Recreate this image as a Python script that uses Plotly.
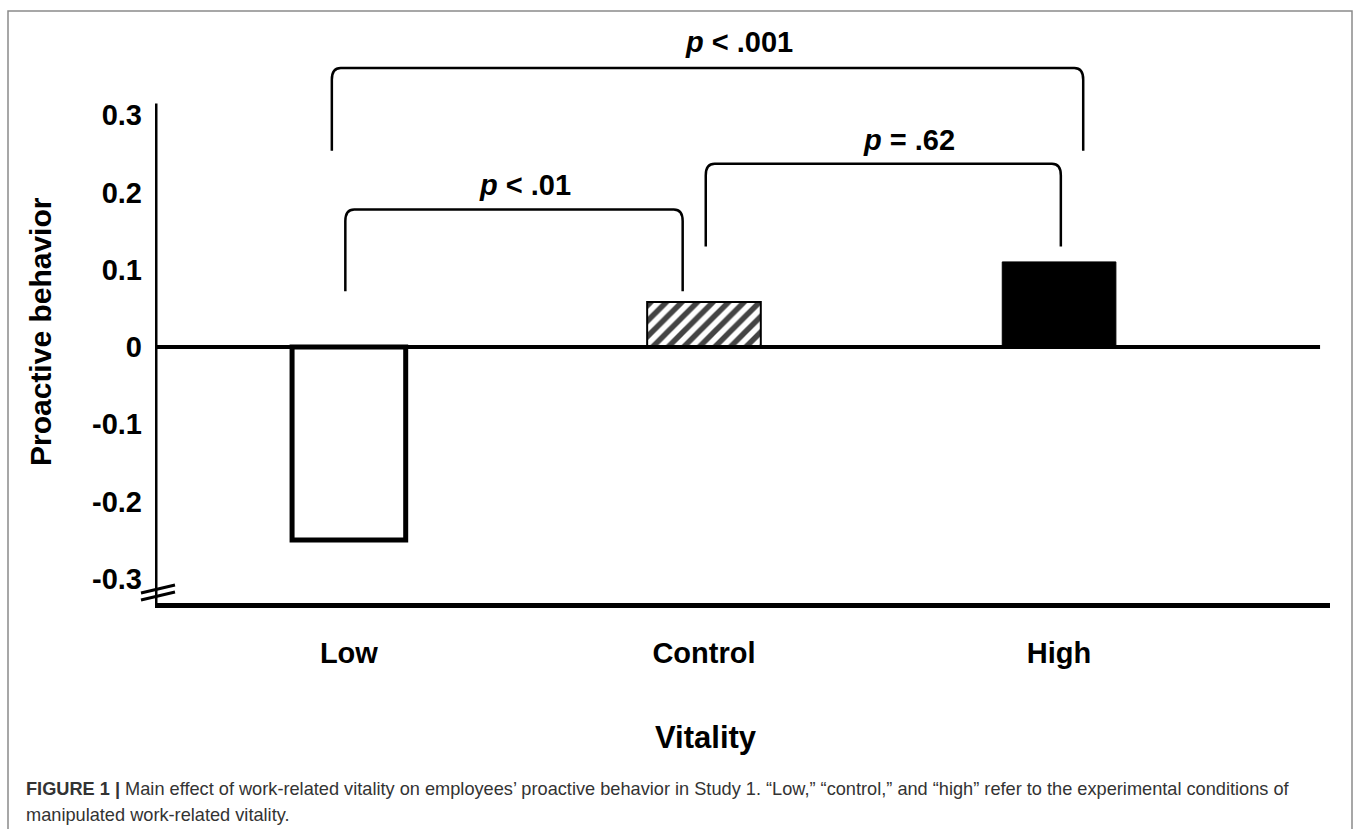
import plotly.graph_objects as go

# ---- data ----
categories = ["Low", "Control", "High"]
values = [-0.25, 0.058, 0.11]
ytick_vals = [-0.3, -0.2, -0.1, 0, 0.1, 0.2, 0.3]
ytick_text = ["-0.3", "-0.2", "-0.1", "0", "0.1", "0.2", "0.3"]

# comparisons: (left index, right index, label, bracket top, leg bottom)
comp_left = [0, 1, 0]
comp_right = [1, 2, 2]
comp_labels = ["<i>p</i> < .01", "<i>p</i> = .62", "<i>p</i> < .001"]
comp_top = [0.178, 0.237, 0.361]
comp_bottom = [0.072, 0.130, 0.254]

W, H = 1357, 829
L, R, T, B = 155, 27, 20, 226
plot_w = W - L - R
plot_h = H - T - B

X_MIN, X_MAX = -0.546, 2.763
Y_MIN, Y_MAX = -0.3316, 0.4232
AX_TOP = 0.315
FONT = "Liberation Sans, Arial, sans-serif"


def px2paper_x(px):
    return (px - L) / plot_w


def px2paper_y(py):
    return (H - B - py) / plot_h


xs = list(range(len(categories)))

fig = go.Figure()
fig.add_trace(go.Bar(
    x=xs, y=values, width=0.32,
    marker=dict(
        color=["white", "white", "black"],
        line=dict(color="black", width=[5, 2, 1]),
        pattern=dict(shape=["", "/", ""], fgcolor="black", bgcolor="white",
                     size=11, solidity=0.5, fgopacity=1),
    ),
    showlegend=False, hoverinfo="skip",
))

shapes = []
# zero line
shapes.append(dict(type="line", xref="x", yref="y", x0=X_MIN, x1=2.735, y0=0, y1=0,
                   line=dict(color="black", width=4), layer="above"))
# y axis line
shapes.append(dict(type="line", xref="x", yref="y", x0=X_MIN, x1=X_MIN, y0=Y_MIN, y1=AX_TOP,
                   line=dict(color="black", width=5), layer="above"))
# axis break marks
shapes.append(dict(type="line", xref="paper", yref="paper",
                   x0=px2paper_x(141), y0=px2paper_y(593), x1=px2paper_x(175), y1=px2paper_y(585),
                   line=dict(color="black", width=3)))
shapes.append(dict(type="line", xref="paper", yref="paper",
                   x0=px2paper_x(141), y0=px2paper_y(600), x1=px2paper_x(175), y1=px2paper_y(592),
                   line=dict(color="black", width=3)))
# outer frame
shapes.append(dict(type="rect", xref="paper", yref="paper",
                   x0=px2paper_x(8), x1=px2paper_x(1352), y0=px2paper_y(840), y1=px2paper_y(11),
                   line=dict(color="#8a8a8a", width=1.5), fillcolor="rgba(0,0,0,0)"))

# brackets with rounded corners
annotations = []
bracket_x_adj = [(-0.01, -0.06), (0.005, 0.005), (-0.048, 0.068)]
for i in range(len(comp_labels)):
    xl = comp_left[i] + bracket_x_adj[i][0]
    xr = comp_right[i] + bracket_x_adj[i][1]
    yt = comp_top[i]
    yb = comp_bottom[i]
    cx = 0.025
    cy = 0.015
    path = (f"M {xl},{yb} L {xl},{yt - cy} Q {xl},{yt} {xl + cx},{yt} "
            f"L {xr - cx},{yt} Q {xr},{yt} {xr},{yt - cy} L {xr},{yb}")
    shapes.append(dict(type="path", xref="x", yref="y", path=path,
                       line=dict(color="black", width=2.5)))

label_x = [0.496, 1.577, 1.099]
label_y = [0.209, 0.268, 0.395]
for i, lab in enumerate(comp_labels):
    annotations.append(dict(x=label_x[i], y=label_y[i], xref="x", yref="y", text=f"<b>{lab}</b>",
                            xanchor="center", yanchor="middle",
                            showarrow=False, font=dict(size=29, color="black", family=FONT)))

# axis titles
annotations.append(dict(x=px2paper_x(40), y=px2paper_y(332), xref="paper", yref="paper",
                        xanchor="center", yanchor="middle",
                        text="<b>Proactive behavior</b>", textangle=-90, showarrow=False,
                        font=dict(size=30, color="black", family=FONT)))
annotations.append(dict(x=px2paper_x(706), y=px2paper_y(737), xref="paper", yref="paper",
                        xanchor="center", yanchor="middle",
                        text="<b>Vitality</b>", showarrow=False,
                        font=dict(size=31, color="black", family=FONT)))
# caption
annotations.append(dict(x=px2paper_x(24), y=px2paper_y(789), xref="paper", yref="paper",
                        xanchor="left", yanchor="middle", align="left",
                        text=("<b>FIGURE 1 |</b> Main effect of work-related vitality on employees\u2019 proactive "
                              "behavior in Study 1. \u201cLow,\u201d \u201ccontrol,\u201d and \u201chigh\u201d refer "
                              "to the experimental conditions of"),
                        showarrow=False, font=dict(size=18.2, color="#333333", family=FONT)))
annotations.append(dict(x=px2paper_x(24), y=px2paper_y(815), xref="paper", yref="paper",
                        xanchor="left", yanchor="middle", align="left",
                        text="manipulated work-related vitality.",
                        showarrow=False, font=dict(size=18.2, color="#333333", family=FONT)))

fig.update_layout(
    width=W, height=H,
    margin=dict(l=L, r=R, t=T, b=B, pad=0),
    paper_bgcolor="white", plot_bgcolor="white",
    shapes=shapes, annotations=annotations,
    xaxis=dict(range=[X_MIN, X_MAX], tickvals=xs, ticktext=[f"<b>{c}</b>" for c in categories],
               showgrid=False, zeroline=False, showline=True, linecolor="black", linewidth=5,
               ticks="", ticklabelstandoff=20,
               tickfont=dict(size=29, color="black", family=FONT)),
    yaxis=dict(range=[Y_MIN, Y_MAX], tickvals=ytick_vals, ticktext=[f"<b>{t}</b>" for t in ytick_text],
               showgrid=False, zeroline=False, showline=False, ticks="", ticklabelstandoff=12,
               tickfont=dict(size=29, color="black", family=FONT)),
    font=dict(family=FONT),
)

fig.write_html("out.html", config={"displayModeBar": False},
               post_script="document.body.style.margin='0';document.body.style.overflow='hidden';")
